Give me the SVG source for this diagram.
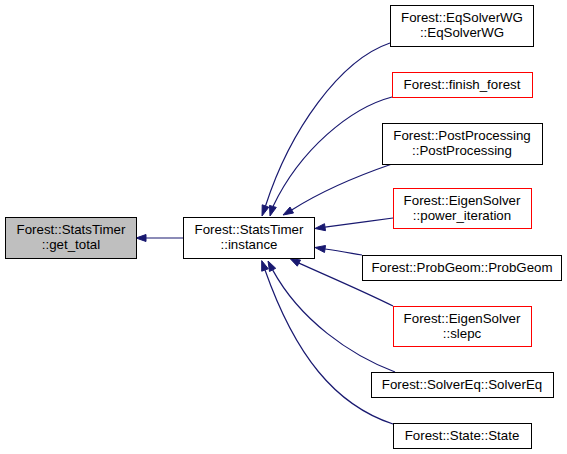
<svg xmlns="http://www.w3.org/2000/svg" width="567" height="454" viewBox="0 0 567 454">
<style>
.n rect{fill:#fff;stroke:#000;stroke-width:1}
.r rect{stroke:#ff0000}
.g rect{fill:#bfbfbf}
text{font-family:"Liberation Sans",Arial,sans-serif;font-size:13.3px;text-anchor:middle;fill:#000}
.e path{fill:none;stroke:#191970;stroke-width:1.2}
.e polygon{fill:#191970;stroke:#191970;stroke-width:1}
</style>
<rect width="567" height="454" fill="#fff"/>
<g id="edges" class="e">
<path d="M183,238H146"/><polygon points="146,234.5 136,238 146,241.5"/>
<path d="M390,43C340,60 290,130 265.5,206"/><polygon points="268.8,207.2 262,216 262.2,204.8"/>
<path d="M392,97C350,108 300,150 273,206.4"/><polygon points="276.3,207.4 270,216 269.5,205.4"/>
<path d="M392,164C360,175 320,192 291.7,210"/><polygon points="293.5,213 283,215 290,207"/>
<path d="M393,218C370,221 350,224 325,227.2"/><polygon points="325.5,230.7 315,228.5 324.5,223.7"/>
<path d="M362,255C350,253 340,251 325,249"/><polygon points="325.5,245.5 315,247.5 324.5,252.5"/>
<path d="M393,306C365,292 330,277 298.9,263.1"/><polygon points="300.5,260 290,258.5 297.3,266.2"/>
<path d="M395,372C350,355 300,320 272.6,269.9"/><polygon points="275.7,268.3 268,261 269.5,271.5"/>
<path d="M393,424C335,405 295,355 265,270"/><polygon points="268.3,268.8 261.7,260.6 261.7,271.2"/>
</g>
<g id="get_total" class="n g"><rect x="5.5" y="217.5" width="131" height="41"/><text x="71" y="234">Forest::StatsTimer</text><text x="71" y="248.5">::get_total</text></g>
<g id="instance" class="n"><rect x="183.5" y="217.5" width="131" height="41"/><text x="249" y="234">Forest::StatsTimer</text><text x="249" y="248.5">::instance</text></g>
<g id="EqSolverWG" class="n"><rect x="390.5" y="5.5" width="143" height="41"/><text x="462" y="22">Forest::EqSolverWG</text><text x="462" y="36.5">::EqSolverWG</text></g>
<g id="finish_forest" class="n r"><rect x="392.5" y="72.5" width="140" height="25"/><text x="462" y="88.5">Forest::finish_forest</text></g>
<g id="PostProcessing" class="n"><rect x="382.5" y="123.5" width="160" height="41"/><text x="462" y="140">Forest::PostProcessing</text><text x="462" y="154.5">::PostProcessing</text></g>
<g id="power_iteration" class="n r"><rect x="393.5" y="188.5" width="138" height="40"/><text x="462" y="205">Forest::EigenSolver</text><text x="462" y="219.5">::power_iteration</text></g>
<g id="ProbGeom" class="n"><rect x="362.5" y="255.5" width="199" height="25"/><text x="462" y="271.5">Forest::ProbGeom::ProbGeom</text></g>
<g id="slepc" class="n r"><rect x="393.5" y="306.5" width="138" height="40"/><text x="462" y="323">Forest::EigenSolver</text><text x="462" y="337.5">::slepc</text></g>
<g id="SolverEq" class="n"><rect x="371.5" y="372.5" width="182" height="25"/><text x="462" y="388.5">Forest::SolverEq::SolverEq</text></g>
<g id="State" class="n"><rect x="393.5" y="423.5" width="138" height="25"/><text x="462" y="439.5">Forest::State::State</text></g>
</svg>
